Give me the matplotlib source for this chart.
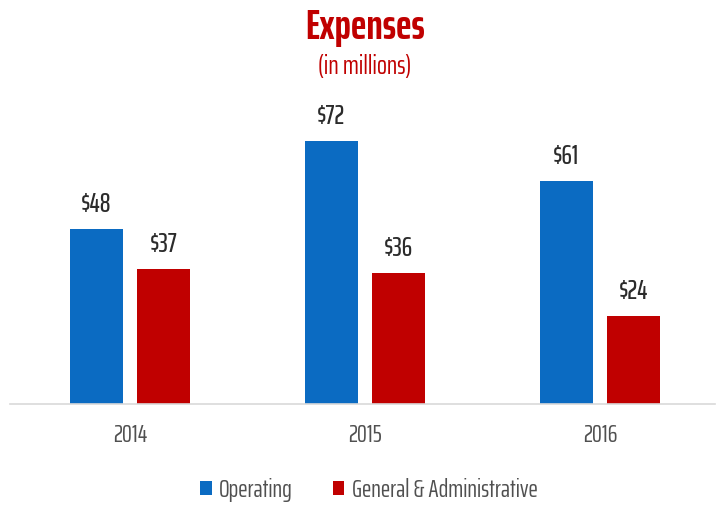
import matplotlib
matplotlib.use("Agg")
import matplotlib.pyplot as plt
import numpy as np

years = ["2014", "2015", "2016"]
operating = [48, 72, 61]
general_admin = [37, 36, 24]
series_names = ["Operating", "General & Administrative"]

plt.rcParams['font.family'] = ["Saira ExtraCondensed", 'DejaVu Sans']

blue = "#0B6BC2"
red = "#C00000"

fig = plt.figure(figsize=(7.23, 5.05), dpi=100)
ax = fig.add_axes([10/723, 101/505, 705/723, 304/505])
x = np.arange(len(years))
w = 0.225
off = 0.1425
b1 = ax.bar(x - off, operating, w, color=blue, label=series_names[0])
b2 = ax.bar(x + off, general_admin, w, color=red, label=series_names[1])
for bars, vals in ((b1, operating), (b2, general_admin)):
    for r, v in zip(bars, vals):
        ax.text(r.get_x() + r.get_width()/2, v + 3.3, f"${v}", ha="center", va="bottom",
                fontsize=19, fontweight=500, color="#2b2b2b")
ax.set_xlim(-0.51, 2.49)
ax.set_ylim(0, 83.3)
ax.set_xticks(x)
ax.set_xticklabels(years, fontsize=18, color="#505050")
ax.tick_params(axis="x", length=0, pad=14)
ax.set_yticks([])
for s in ["top", "right", "left"]:
    ax.spines[s].set_visible(False)
ax.spines["bottom"].set_color("#d9d9d9")
ax.spines["bottom"].set_linewidth(1.2)

fig.text(365/723, 1 - 27/505, "Expenses", ha="center", va="center", fontsize=30,
         fontweight="bold", color="#C00000")
fig.text(365/723, 1 - 67/505, "(in millions)", ha="center", va="center", fontsize=19,
         color="#C00000")

leg = fig.legend(handles=[b1, b2], loc="center", bbox_to_anchor=(369/723, 1 - 490/505),
                 ncol=2, frameon=False, fontsize=18, handlelength=0.45, handleheight=0.45,
                 handletextpad=0.3, columnspacing=1.6)
for t in leg.get_texts():
    t.set_color("#505050")

fig.savefig("out.png", dpi=100)
